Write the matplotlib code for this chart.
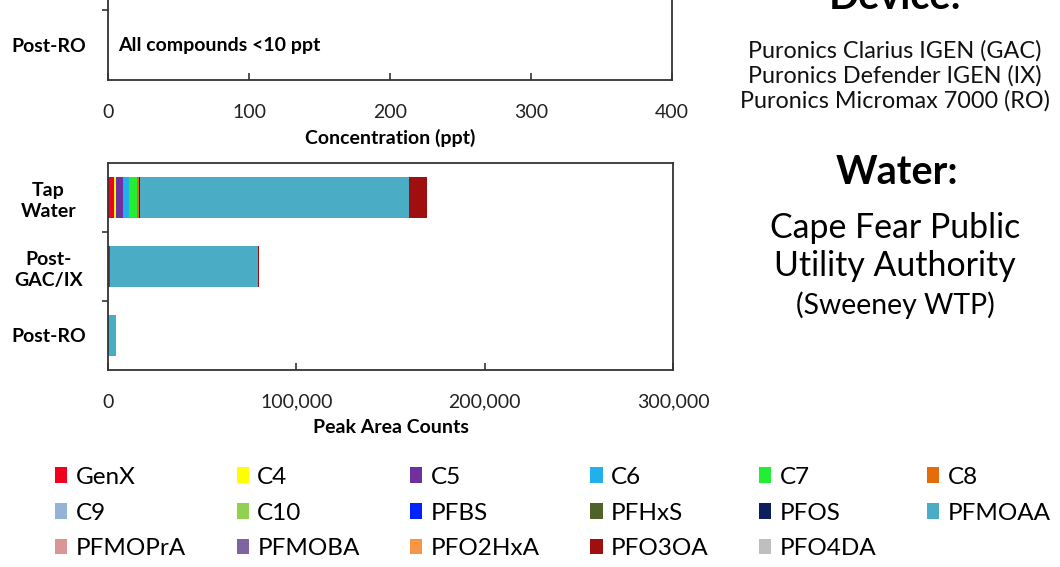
import matplotlib
matplotlib.use("Agg")
import matplotlib.pyplot as plt
from matplotlib.patches import Patch
import numpy as np

plt.rcParams['font.family'] = ['Lato', 'DejaVu Sans']

# ---- data ----
compounds = ["GenX", "C4", "C5", "C6", "C7", "C8", "C9", "C10", "PFBS", "PFHxS",
             "PFOS", "PFMOAA", "PFMOPrA", "PFMOBA", "PFO2HxA", "PFO3OA", "PFO4DA"]
colors = ["#F0001C", "#FFFF00", "#7030A0", "#22B0EA", "#22EE33", "#E46C0A", "#95B3D7",
          "#92D050", "#0022FF", "#4F6228", "#0A1F5C", "#4BACC6", "#DA9694", "#8064A2",
          "#F79646", "#A00F0F", "#BFBFBF"]
samples = ["Tap\nWater", "Post-\nGAC/IX", "Post-RO"]
# peak area counts per compound for [Tap Water, Post-GAC/IX, Post-RO]
peak_counts = {
    "GenX":    [3200, 1200, 0],
    "C4":      [900, 0, 0],
    "C5":      [4100, 0, 0],
    "C6":      [3200, 0, 0],
    "C7":      [3900, 0, 0],
    "C8":      [900, 0, 0],
    "C9":      [0, 0, 0],
    "C10":     [0, 0, 0],
    "PFBS":    [0, 0, 0],
    "PFHxS":   [0, 0, 0],
    "PFOS":    [700, 0, 0],
    "PFMOAA":  [142800, 78500, 4300],
    "PFMOPrA": [0, 0, 0],
    "PFMOBA":  [0, 0, 0],
    "PFO2HxA": [0, 0, 0],
    "PFO3OA":  [9600, 300, 0],
    "PFO4DA":  [0, 0, 0],
}
conc_ticks = [0, 100, 200, 300, 400]
peak_ticks = [0, 100000, 200000, 300000]
peak_tick_labels = ["0", "100,000", "200,000", "300,000"]

W, H = 1060, 567
fig = plt.figure(figsize=(W / 100, H / 100), dpi=100)

def fr(x0, y_top, x1, y_bot):
    return [x0 / W, 1 - y_bot / H, (x1 - x0) / W, (y_bot - y_top) / H]

spine_col = "#333333"

def style(ax):
    for s in ax.spines.values():
        s.set_color(spine_col)
        s.set_linewidth(1.3)
    ax.tick_params(axis='x', direction='in', length=5, width=1.2, color=spine_col,
                   labelsize=14, pad=17, labelcolor="#222222")
    ax.tick_params(axis='y', which='major', length=0, labelsize=14, pad=43)
    ax.tick_params(axis='y', which='minor', direction='out', length=4, width=1.2, color=spine_col)

# ---- top panel (concentration, mostly cropped) ----
ax1 = fig.add_axes(fr(108, -130, 672, 80))
ax1.set_xlim(0, 400)
ax1.set_ylim(2.5, -0.5)
ax1.set_xticks(conc_ticks)
ax1.set_xticklabels([str(t) for t in conc_ticks])
ax1.set_yticks([2])
ax1.set_yticklabels(["Post-RO"], fontweight='bold', ha='center')
ax1.set_yticks([1.5], minor=True)
style(ax1)
ax1.set_xlabel("Concentration (ppt)", fontsize=14, fontweight='bold', labelpad=6)
ax1.text(7, 2, "All compounds <10 ppt", fontsize=14, fontweight='bold', va='center', ha='left')

# ---- bottom panel (peak area counts) ----
ax2 = fig.add_axes(fr(108, 163, 673, 370))
ypos = np.arange(len(samples))
left = np.zeros(len(samples))
for name, col in zip(compounds, colors):
    vals = np.array(peak_counts[name], dtype=float)
    ax2.barh(ypos, vals, left=left, height=0.58, color=col, label=name, linewidth=0)
    left += vals
ax2.set_xlim(0, 300000)
ax2.set_ylim(2.5, -0.5)
ax2.set_xticks(peak_ticks)
ax2.set_xticklabels(peak_tick_labels)
ax2.set_yticks(ypos)
ax2.set_yticklabels(samples, fontweight='bold', linespacing=1.3, ha='center')
ax2.set_yticks([0.5, 1.5], minor=True)
style(ax2)
ax2.set_xlabel("Peak Area Counts", fontsize=14, fontweight='bold', labelpad=6)

# ---- right-hand text ----
cx = 895 / W
fig.text(cx, 1 - 9 / H, "Device:", fontsize=28.5, fontweight='bold', ha='center', va='baseline')
for y, t in [(51, "Puronics Clarius IGEN (GAC)"), (76, "Puronics Defender IGEN (IX)"),
             (101, "Puronics Micromax 7000 (RO)")]:
    fig.text(cx, 1 - y / H, t, fontsize=16.8, ha='center', va='center', color="#111111")
fig.text(897 / W, 1 - 173 / H, "Water:", fontsize=28.5, fontweight='bold', ha='center', va='center')
fig.text(cx, 1 - 228 / H, "Cape Fear Public", fontsize=24.4, ha='center', va='center')
fig.text(cx, 1 - 266 / H, "Utility Authority", fontsize=24.4, ha='center', va='center')
fig.text(cx, 1 - 305 / H, "(Sweeney WTP)", fontsize=20.4, ha='center', va='center')

# ---- legend (row-wise order) ----
handles = [Patch(facecolor=c, edgecolor='none') for c in colors]
ncol = 6
order = []
for c in range(ncol):
    order.extend(range(c, len(compounds), ncol))
leg = fig.legend([handles[i] for i in order], [compounds[i] for i in order],
                 ncol=ncol, loc='center', bbox_to_anchor=(553 / W, 1 - 513 / H),
                 frameon=False, fontsize=17.5, handlelength=0.5, handleheight=0.62,
                 handletextpad=0.35, columnspacing=2.08, labelspacing=0.6)

fig.savefig("out.png", dpi=100)
